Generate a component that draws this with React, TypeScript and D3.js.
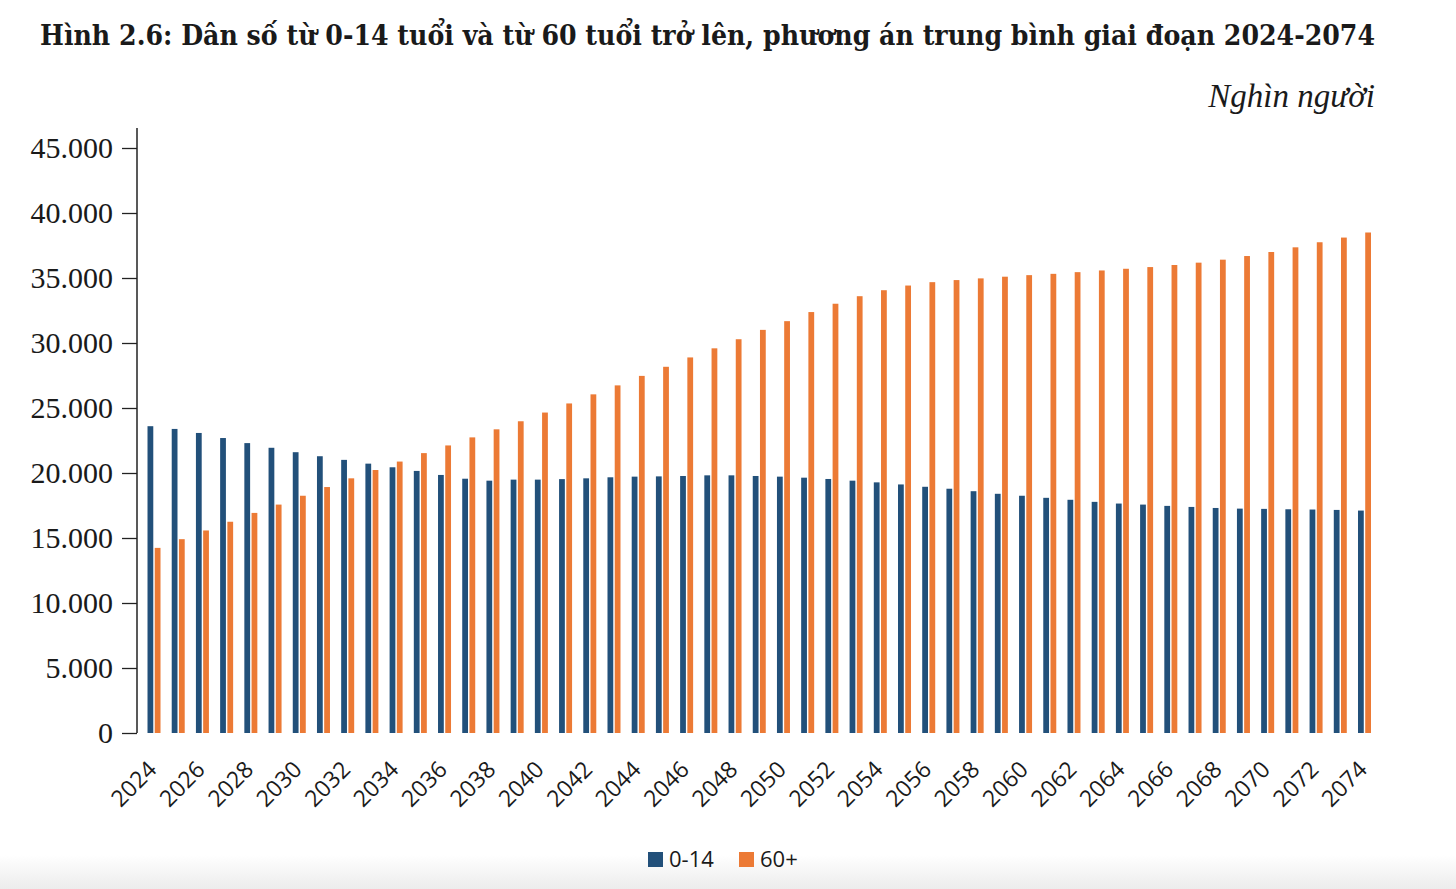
import { useRef, useEffect } from 'react';
import * as d3 from 'd3';

// years 2024..2074
const years: number[] = [
  2024, 2025, 2026, 2027, 2028, 2029, 2030, 2031, 2032, 2033,
  2034, 2035, 2036, 2037, 2038, 2039, 2040, 2041, 2042, 2043,
  2044, 2045, 2046, 2047, 2048, 2049, 2050, 2051, 2052, 2053,
  2054, 2055, 2056, 2057, 2058, 2059, 2060, 2061, 2062, 2063,
  2064, 2065, 2066, 2067, 2068, 2069, 2070, 2071, 2072, 2073,
  2074,
];

// 0-14 tuổi (nghìn người)
const children: number[] = [
  23600, 23390, 23080, 22690, 22300, 21940, 21600, 21290, 21010, 20720,
  20440, 20160, 19850, 19560, 19410, 19490, 19490, 19530, 19590, 19670,
  19720, 19740, 19770, 19820, 19820, 19770, 19720, 19640, 19540, 19410,
  19280, 19120, 18940, 18790, 18600, 18400, 18250, 18090, 17940, 17780,
  17650, 17570, 17470, 17390, 17310, 17260, 17240, 17210, 17190, 17160,
  17110,
];

// 60+ tuổi (nghìn người)
const elderly: number[] = [
  14240, 14910, 15580, 16250, 16930, 17570, 18250, 18920, 19590, 20230,
  20880, 21530, 22120, 22740, 23360, 23980, 24650, 25350, 26050, 26740,
  27470, 28170, 28890, 29590, 30290, 31010, 31680, 32380, 33020, 33600,
  34060, 34420, 34680, 34840, 34970, 35100, 35220, 35320, 35450, 35580,
  35710, 35840, 36000, 36180, 36410, 36690, 37000, 37360, 37750, 38110,
  38500,
];

const seriesKeys = ['0-14', '60+'];
const seriesColors = ['#22507a', '#ec7a35'];
const yTicks = [0, 5000, 10000, 15000, 20000, 25000, 30000, 35000, 40000, 45000];

const title = 'Hình 2.6: Dân số từ 0-14 tuổi và từ 60 tuổi trở lên, phương án trung bình giai đoạn 2024-2074';
const unitLabel = 'Nghìn người';

const W = 1456;
const H = 889;

export default function App() {
  const svgRef = useRef<SVGSVGElement | null>(null);

  useEffect(() => {
    const svg = d3.select(svgRef.current);
    svg.selectAll('*').remove();

    const rows = years.map((y, i) => ({ year: y, values: [children[i], elderly[i]] }));

    // bottom grey fade
    const defs = svg.append('defs');
    const grad = defs.append('linearGradient').attr('id', 'fade').attr('x1', 0).attr('x2', 0).attr('y1', 0).attr('y2', 1);
    grad.append('stop').attr('offset', '0%').attr('stop-color', '#ffffff');
    grad.append('stop').attr('offset', '100%').attr('stop-color', '#ececec');
    svg.append('rect').attr('width', W).attr('height', H).attr('fill', '#ffffff');
    svg.append('rect').attr('y', 855).attr('width', W).attr('height', H - 855).attr('fill', 'url(#fade)');

    // title
    svg.append('text')
      .attr('x', 40)
      .attr('y', 45)
      .attr('font-family', '"DejaVu Serif Condensed", "DejaVu Serif", serif')
      .attr('font-stretch', 'condensed')
      .attr('font-weight', 'bold')
      .attr('font-size', 27)
      .attr('fill', '#1a1a1a')
      .attr('textLength', 1335)
      .attr('lengthAdjust', 'spacingAndGlyphs')
      .text(title);

    svg.append('text')
      .attr('x', 1375)
      .attr('y', 107)
      .attr('text-anchor', 'end')
      .attr('font-family', '"Liberation Serif", serif')
      .attr('font-style', 'italic')
      .attr('font-size', 33)
      .attr('fill', '#1a1a1a')
      .text(unitLabel);

    // scales
    const x = d3.scaleBand<number>()
      .domain(years)
      .range([141.9, 1376.6])
      .padding(0);
    const xSub = d3.scaleBand<string>()
      .domain(seriesKeys)
      .range([-6.5, 6.5])
      .paddingInner(0.2);
    const y = d3.scaleLinear().domain([0, 45000]).range([733, 148]);

    // bars
    const groups = svg.append('g')
      .selectAll('g')
      .data(rows)
      .join('g')
      .attr('transform', (d) => `translate(${x(d.year)! + x.bandwidth() / 2},0)`);

    groups.selectAll('rect')
      .data((d) => d.values.map((v, k) => ({ key: seriesKeys[k], value: v, k })))
      .join('rect')
      .attr('x', (d) => xSub(d.key)!)
      .attr('width', xSub.bandwidth())
      .attr('y', (d) => y(d.value))
      .attr('height', (d) => y(0) - y(d.value))
      .attr('fill', (d) => seriesColors[d.k]);

    // y axis
    const yAxis = d3.axisLeft(y)
      .tickValues(yTicks)
      .tickSize(15)
      .tickPadding(9)
      .tickFormat((d: any) => d3.format(',')(d).replace(/,/g, '.'));

    const yAxisGroup = svg.append('g')
      .attr('transform', 'translate(137,0)')
      .call(yAxis);
    yAxisGroup.select('.domain').attr('d', `M0,128V${y(0)}`).attr('stroke', '#222').attr('stroke-width', 1.5);
    yAxisGroup.selectAll('.tick line').attr('stroke', '#222').attr('stroke-width', 1.3);
    yAxisGroup.selectAll('.tick text')
      .attr('font-family', '"Liberation Serif", serif')
      .attr('font-size', 30)
      .attr('fill', '#1a1a1a')
      .attr('dy', '0.33em');

    // x labels every 2 years
    svg.append('g')
      .selectAll('text')
      .data(years.filter((yr) => (yr - 2024) % 2 === 0))
      .join('text')
      .attr('transform', (d) => `translate(${x(d)! + x.bandwidth() / 2 + 4},771) rotate(-45)`)
      .attr('text-anchor', 'end')
      .attr('font-family', '"Open Sans", sans-serif')
      .attr('font-size', 23)
      .attr('fill', '#1a1a1a')
      .text((d) => d);

    // legend
    const legend = svg.append('g');
    const legendX = [648, 739];
    seriesKeys.forEach((k, i) => {
      legend.append('rect')
        .attr('x', legendX[i])
        .attr('y', 852)
        .attr('width', 15)
        .attr('height', 15)
        .attr('fill', seriesColors[i]);
      legend.append('text')
        .attr('x', legendX[i] + 21)
        .attr('y', 867)
        .attr('font-family', '"Open Sans", sans-serif')
        .attr('font-size', 22)
        .attr('fill', '#1a1a1a')
        .text(k);
    });
  }, []);

  return (
    <svg
      ref={svgRef}
      width={W}
      height={H}
      style={{ position: 'absolute', left: 0, top: 0, display: 'block' }}
    />
  );
}
